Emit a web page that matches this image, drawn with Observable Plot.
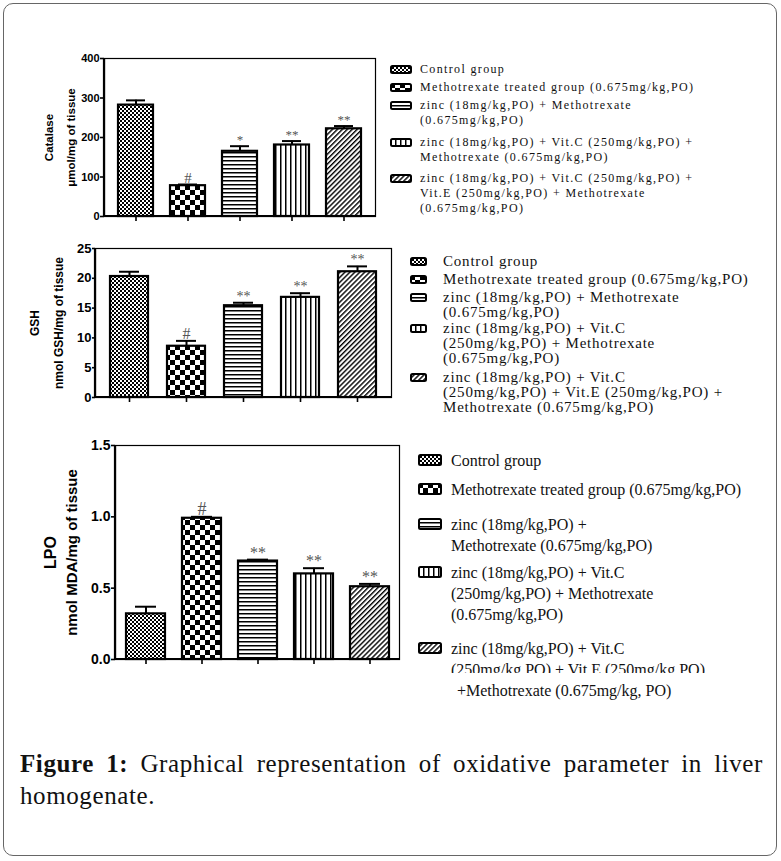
<!DOCTYPE html>
<html>
<head>
<meta charset="utf-8">
<script src="https://cdn.jsdelivr.net/npm/d3@7"></script>
<script src="https://cdn.jsdelivr.net/npm/@observablehq/plot@0.6"></script>
<style>
  body { margin: 0; background: #fff; }
  #wrap { position: relative; width: 781px; height: 861px; overflow: hidden; background: #fff; }
  .border { position: absolute; left: 3px; top: 3px; width: 772px; height: 851px; border: 1.6px solid #666; border-radius: 10px; }
  .panel { position: absolute; }
  .leg { position: absolute; font-family: "Liberation Serif", "Times New Roman", serif; color: #111; white-space: nowrap; }
  .leg .item { position: absolute; left: 0; }
  .leg .txt div { white-space: nowrap; }
  .caption { position: absolute; left: 20px; top: 748px; width: 743px; font-family: "Liberation Serif", "Times New Roman", serif; font-size: 25px; letter-spacing: 0.6px; line-height: 32px; text-align: justify; color: #111; }
  .caption b { font-weight: bold; }
</style>
</head>
<body>
<svg width="0" height="0" style="position:absolute">
  <defs>
    <pattern id="pat-ctrl" width="4" height="4" patternUnits="userSpaceOnUse">
      <rect width="4" height="4" fill="#fff"/>
      <rect width="2" height="2" fill="#000"/>
      <rect x="2" y="2" width="2" height="2" fill="#000"/>
    </pattern>
    <pattern id="pat-mtx" width="10" height="10" patternUnits="userSpaceOnUse">
      <rect width="10" height="10" fill="#fff"/>
      <rect width="5" height="5" fill="#000"/>
      <rect x="5" y="5" width="5" height="5" fill="#000"/>
    </pattern>
    <pattern id="pat-zinc" width="4" height="4" patternUnits="userSpaceOnUse">
      <rect width="4" height="4" fill="#fff"/>
      <rect width="4" height="1.5" fill="#000"/>
    </pattern>
    <pattern id="pat-vitc" width="5" height="5" patternUnits="userSpaceOnUse">
      <rect width="5" height="5" fill="#fff"/>
      <rect width="1.5" height="5" fill="#000"/>
    </pattern>
    <pattern id="pat-vite" width="3.5" height="3.5" patternUnits="userSpaceOnUse" patternTransform="rotate(45)">
      <rect width="3.5" height="3.5" fill="#fff"/>
      <rect width="1.4" height="3.5" fill="#000"/>
    </pattern>
  </defs>
</svg>
<div id="wrap">
  <div class="border"></div>
  <div class="caption"><b>Figure 1:</b> Graphical representation of oxidative parameter in liver homogenate.</div>
</div>
<script>
// ---- data ----
const groups = ["Control", "Methotrexate", "Zinc+MTX", "Zinc+VitC+MTX", "Zinc+VitC+VitE+MTX"];
const patterns = ["url(#pat-ctrl)", "url(#pat-mtx)", "url(#pat-zinc)", "url(#pat-vitc)", "url(#pat-vite)"];

const catalase = [282, 78, 165, 181, 222];
const catalaseErr = [12, 3, 13, 10, 7];
const catalaseNotes = ["", "#", "*", "**", "**"];
const catalaseTicks = [0, 100, 200, 300, 400];

const gsh = [20.3, 8.6, 15.4, 16.8, 21.1];
const gshErr = [0.8, 0.9, 0.5, 0.7, 0.9];
const gshNotes = ["", "#", "**", "**", "**"];
const gshTicks = [0, 5, 10, 15, 20, 25];

const lpo = [0.32, 0.99, 0.69, 0.60, 0.51];
const lpoErr = [0.05, 0.01, 0.01, 0.04, 0.02];
const lpoNotes = ["", "#", "**", "**", "**"];
const lpoTicks = [0, 0.5, 1.0, 1.5];

const legend1 = [
  ["Control group"],
  ["Methotrexate treated group (0.675mg/kg,PO)"],
  ["zinc (18mg/kg,PO) + Methotrexate", "(0.675mg/kg,PO)"],
  ["zinc (18mg/kg,PO) + Vit.C (250mg/kg,PO) +", "Methotrexate (0.675mg/kg,PO)"],
  ["zinc (18mg/kg,PO) + Vit.C (250mg/kg,PO) +", "Vit.E (250mg/kg,PO) + Methotrexate", "(0.675mg/kg,PO)"]
];
const legend2 = [
  ["Control group"],
  ["Methotrexate treated group (0.675mg/kg,PO)"],
  ["zinc (18mg/kg,PO) + Methotrexate", "(0.675mg/kg,PO)"],
  ["zinc (18mg/kg,PO) + Vit.C", "(250mg/kg,PO) + Methotrexate", "(0.675mg/kg,PO)"],
  ["zinc (18mg/kg,PO) + Vit.C", "(250mg/kg,PO) + Vit.E (250mg/kg,PO) +", "Methotrexate (0.675mg/kg,PO)"]
];
const legend3 = [
  ["Control group"],
  ["Methotrexate treated group (0.675mg/kg,PO)"],
  ["zinc (18mg/kg,PO) +", "Methotrexate (0.675mg/kg,PO)"],
  ["zinc (18mg/kg,PO) + Vit.C", "(250mg/kg,PO) + Methotrexate", "(0.675mg/kg,PO)"],
  ["zinc (18mg/kg,PO) + Vit.C", "(250mg/kg,PO) + Vit.E (250mg/kg,PO)"]
];
const legend3Tail = "+Methotrexate (0.675mg/kg, PO)";

// ---- drawing ----
const wrap = document.getElementById("wrap");
const SANS = "Liberation Sans, Arial, sans-serif";

function panel(o) {
  const data = groups.map((g, i) => ({group: g, value: o.values[i], err: o.errs[i], note: o.notes[i]}));
  const axisLines = (index, scales, values, dims) => {
    const p = document.createElementNS("http://www.w3.org/2000/svg", "path");
    const x0 = dims.marginLeft, y0 = dims.marginTop, y1 = dims.height - dims.marginBottom, x1 = dims.width - dims.marginRight;
    p.setAttribute("d", `M${x0},${y0}V${y1}H${x1}`);
    p.setAttribute("fill", "none");
    p.setAttribute("stroke", "#000");
    p.setAttribute("stroke-width", "2.2");
    return p;
  };
  const chart = Plot.plot({
    width: o.width, height: o.height,
    marginLeft: o.ml, marginRight: o.mr, marginTop: o.mt, marginBottom: o.mb,
    x: {domain: groups, paddingInner: o.pi, paddingOuter: o.po, axis: null},
    y: {domain: o.domain, axis: null},
    color: {domain: groups, range: patterns},
    style: {background: "transparent", overflow: "visible"},
    marks: [
      Plot.frame({stroke: "#000", strokeWidth: 1.2}),
      Plot.ruleX(data, {x: "group", y1: "value", y2: d => d.value + d.err, stroke: "#000", strokeWidth: 2}),
      Plot.tickY(data, {x: "group", y: d => d.value + d.err, insetLeft: o.inset, insetRight: o.inset, stroke: "#000", strokeWidth: 2}),
      Plot.barY(data, {x: "group", y: "value", fill: "group", stroke: "#000", strokeWidth: 2.2}),
      Plot.text(data, {x: "group", y: d => d.value + d.err, text: "note", lineAnchor: "bottom", dy: o.noteDy, fill: "#555",
        fontSize: d => d.note === "#" ? o.hashSize : o.starSize, fontFamily: "Liberation Serif, serif"}),
      Plot.axisY({ticks: o.ticks, tickSize: o.tickSize, tickPadding: 1, tickFormat: o.fmt, fontSize: o.tickFont, fontWeight: "bold", fontFamily: SANS, strokeWidth: 1.6, label: null}),
      Plot.axisX({tickSize: 5, tickFormat: () => "", strokeWidth: 1.6, label: null}),
      axisLines,
      Plot.text([o.label1], {frameAnchor: "left", textAnchor: "middle", lineAnchor: "middle", rotate: -90, dx: o.l1dx, text: d => d, fontSize: o.l1size, fontWeight: "bold", fontFamily: SANS, fill: "#000"}),
      Plot.text([o.label2], {frameAnchor: "left", textAnchor: "middle", lineAnchor: "middle", rotate: -90, dx: o.l2dx, text: d => d, fontSize: o.l2size, fontWeight: "bold", fontFamily: SANS, fill: "#000"})
    ]
  });
  const div = document.createElement("div");
  div.className = "panel";
  div.style.left = o.left + "px";
  div.style.top = o.top + "px";
  div.appendChild(chart);
  wrap.appendChild(div);
}

function legend(o) {
  const div = document.createElement("div");
  div.className = "leg";
  div.style.left = o.left + "px";
  div.style.top = "0px";
  div.style.fontSize = o.fontSize + "px";
  div.style.lineHeight = o.lh + "px";
  div.style.letterSpacing = o.ls + "px";
  o.items.forEach((lines, i) => {
    const item = document.createElement("div");
    item.className = "item";
    item.style.top = (o.centers[i] - o.lh / 2) + "px";
    const sw = document.createElementNS("http://www.w3.org/2000/svg", "svg");
    sw.setAttribute("width", o.sw + 2);
    sw.setAttribute("height", o.sh + 2);
    sw.style.left = "0px";
    sw.style.top = (o.lh / 2 - o.sh / 2 - 1) + "px";
    sw.style.position = "absolute";
    const r = document.createElementNS("http://www.w3.org/2000/svg", "rect");
    r.setAttribute("x", 1); r.setAttribute("y", 1);
    r.setAttribute("width", o.sw); r.setAttribute("height", o.sh);
    r.setAttribute("rx", 1.5);
    r.setAttribute("fill", patterns[i]);
    r.setAttribute("stroke", "#000");
    r.setAttribute("stroke-width", 2);
    sw.appendChild(r);
    item.appendChild(sw);
    const txt = document.createElement("div");
    txt.className = "txt";
    txt.style.position = "absolute";
    txt.style.left = o.textDx + "px";
    txt.style.top = "0px";
    if (o.clip && i === o.items.length - 1) {
      txt.style.height = o.clip + "px";
      txt.style.overflow = "hidden";
    }
    lines.forEach(l => { const d = document.createElement("div"); d.textContent = l; txt.appendChild(d); });
    item.appendChild(txt);
    div.appendChild(item);
  });
  if (o.tail) {
    const t = document.createElement("div");
    t.style.position = "absolute";
    t.style.left = o.tail.dx + "px";
    t.style.top = (o.tail.cy - o.lh / 2) + "px";
    t.textContent = o.tail.text;
    div.appendChild(t);
  }
  wrap.appendChild(div);
}

// Panel 1: Catalase
panel({values: catalase, errs: catalaseErr, notes: catalaseNotes, domain: [0, 400], ticks: catalaseTicks, fmt: d => String(d),
  left: 0, top: 40, width: 385, height: 190, ml: 104, mr: 10, mt: 18, mb: 14,
  pi: 0.32, po: 0.22, inset: 8, tickSize: 4, tickFont: 11, hashSize: 15, starSize: 13, noteDy: -2,
  label1: "Catalase", label2: "μmol/mg of tissue", l1dx: -55, l2dx: -33, l1size: 11.5, l2size: 11.5});

// Panel 2: GSH
panel({values: gsh, errs: gshErr, notes: gshNotes, domain: [0, 25], ticks: gshTicks, fmt: d => String(d),
  left: 0, top: 230, width: 400, height: 181, ml: 95, mr: 9, mt: 18, mb: 14,
  pi: 0.33, po: 0.22, inset: 9, tickSize: 3, tickFont: 13, hashSize: 16, starSize: 14, noteDy: -2,
  label1: "GSH", label2: "nmol GSH/mg of tissue", l1dx: -60, l2dx: -36, l1size: 12, l2size: 12});

// Panel 3: LPO
panel({values: lpo, errs: lpoErr, notes: lpoNotes, domain: [0, 1.5], ticks: lpoTicks, fmt: d3.format(".1f"),
  left: 0, top: 425, width: 410, height: 250, ml: 115, mr: 11, mt: 20, mb: 16,
  pi: 0.31, po: 0.16, inset: 9, tickSize: 4, tickFont: 14, hashSize: 18, starSize: 16, noteDy: -2,
  label1: "LPO", label2: "nmol MDA/mg of tissue", l1dx: -65, l2dx: -43, l1size: 16, l2size: 15});

legend({items: legend1, left: 390, centers: [69, 87, 105, 142, 178], fontSize: 12, lh: 15, ls: 1.35, sw: 20, sh: 7, textDx: 30});
legend({items: legend2, left: 410, centers: [261, 279, 297, 328, 377], fontSize: 15, lh: 15, ls: 0.8, sw: 15, sh: 7, textDx: 33});
legend({items: legend3, left: 418, centers: [460, 489, 524, 572, 648], fontSize: 16, lh: 21, ls: 0, sw: 22, sh: 10, textDx: 33, clip: 35,
  tail: {dx: 39, cy: 690, text: legend3Tail}});
</script>
</body>
</html>
